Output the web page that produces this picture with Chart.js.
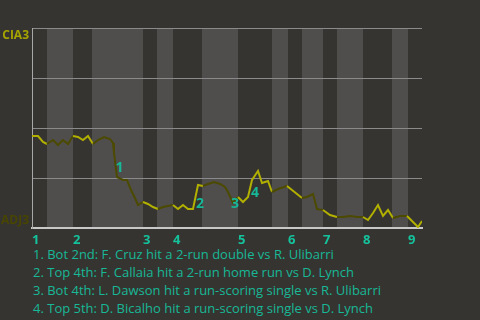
<!DOCTYPE html>
<html>
<head>
<meta charset="utf-8">
<script src="https://cdn.jsdelivr.net/npm/chart.js@4.4.1/dist/chart.umd.min.js"></script>
<style>
  html, body { margin: 0; padding: 0; background: #363430; }
  #wrap { position: relative; width: 480px; height: 250px; }
  #notes {
    margin: 0; padding: 0 0 0 33px;
    font-family: "Open Sans", "Noto Sans", sans-serif; font-size: 13px;
    line-height: 18px; color: #16b897; margin-top: -5px;
  }
</style>
</head>
<body>
<div id="wrap"><canvas id="wp" width="480" height="250"></canvas></div>
<div id="notes"></div>
<script>
// play index (x) and win probability for CIA3 (y, 0-100)
const playX = [0, 1.2, 2.2, 3, 4.2, 5.2, 6.2, 7.2, 8.2, 9.2, 10.2, 11.2, 12.2, 13.2, 14.4, 15.6, 16.2, 16.4, 17, 18.2,
  19, 19.8, 20.6, 21.2, 22.2, 23.2, 24.2, 25.2, 26.2, 27.2, 28.2, 29.2, 30.2, 31.2, 32.2, 33.2, 34.2, 35.2, 36.4, 37.6,
  38.6, 39.2, 40.2, 41.2, 42.2, 43.2, 44, 45.2, 46, 46.6, 47.2, 48, 49.2, 51, 52, 54, 55, 56.2, 57, 58.2,
  59.6, 61, 62.2, 63.6, 65, 66.2, 67.2, 68.2, 69.2, 70.2, 71.2, 72.2, 73.6, 75, 76.2, 77.2, 78];
const winProb = [46, 46, 43, 42, 44, 41.5, 44, 42, 46, 45.5, 44, 46, 42, 44, 45.5, 44.5, 42.5, 37.5, 25.5, 24,
  24, 19, 15, 11.5, 13, 12, 10.5, 9.5, 10.5, 11, 11.5, 9.5, 11.5, 9.5, 9.5, 21.5, 21, 22, 23, 22,
  20.5, 18, 12.5, 15.5, 13, 15.5, 24, 28.5, 22.5, 23, 23.5, 18, 19.5, 21, 19, 15, 15.5, 17, 9.5, 9,
  6.5, 5.5, 5.5, 6, 5.5, 5.5, 4, 7.5, 11.5, 6, 9, 5, 6, 6, 3, 0.5, 3.5];

// half-inning starts (top 1st, bot 1st, top 2nd ...) and end of game
const halfStarts = [0, 3, 8.2, 12, 22.2, 25, 28.2, 34, 41.2, 48, 51.2, 54, 58.2, 61, 66.2, 72, 75.2];
const gameEnd = 78;
const inningLabels = ['1', '2', '3', '4', '5', '6', '7', '8', '9'];

const awayTeam = 'CIA3';
const homeTeam = 'ADJ3';

// key plays
const keyLabels = ['1', '2', '3', '4'];
const keyX = [17.5, 33.6, 40.6, 44.6];
const keyY = [30, 12, 12, 17.5];
const keyNotes = [
  '1. Bot 2nd: F. Cruz hit a 2-run double vs R. Ulibarri',
  '2. Top 4th: F. Callaia hit a 2-run home run vs D. Lynch',
  '3. Bot 4th: L. Dawson hit a run-scoring single vs R. Ulibarri',
  '4. Top 5th: D. Bicalho hit a run-scoring single vs D. Lynch'
];

const YELLOW = '#b2b000';
const OLIVE = '#4c4a00';
const TEAL = '#16b897';

document.getElementById('notes').innerHTML = keyNotes.map(t => '<div>' + t + '</div>').join('');

function halfIndex(x) {
  let k = 0;
  for (let i = 0; i < halfStarts.length; i++) if (x >= halfStarts[i]) k = i;
  return k;
}

const bands = {
  id: 'bands',
  beforeDraw(chart) {
    const {ctx, chartArea, scales: {x}} = chart;
    ctx.save();
    ctx.fillStyle = '#4f4e4c';
    for (let i = 1; i < halfStarts.length; i += 2) {
      const x0 = x.getPixelForValue(halfStarts[i]);
      const x1 = x.getPixelForValue(i + 1 < halfStarts.length ? halfStarts[i + 1] : gameEnd);
      ctx.fillRect(x0, chartArea.top, x1 - x0, chartArea.bottom - chartArea.top);
    }
    ctx.restore();
  },
  afterDatasetsDraw(chart) {
    const {ctx, scales: {x, y}} = chart;
    ctx.save();
    ctx.fillStyle = TEAL;
    ctx.font = 'bold 14px "Open Sans", sans-serif';
    ctx.textAlign = 'center';
    ctx.textBaseline = 'middle';
    keyLabels.forEach((t, i) => ctx.fillText(t, x.getPixelForValue(keyX[i]), y.getPixelForValue(keyY[i])));
    ctx.restore();
  }
};

new Chart(document.getElementById('wp'), {
  type: 'line',
  data: {
    datasets: [{
      data: playX.map((v, i) => ({x: v, y: winProb[i]})),
      borderWidth: 2,
      borderColor: YELLOW,
      pointRadius: 0,
      tension: 0,
      segment: {
        borderColor: c => halfIndex((c.p0.parsed.x + c.p1.parsed.x) / 2) % 2 ? OLIVE : YELLOW
      }
    }]
  },
  plugins: [bands],
  options: {
    responsive: false,
    animation: false,
    devicePixelRatio: 1,
    layout: {padding: {top: 28, right: 58, bottom: 0, left: 0}},
    plugins: {legend: {display: false}, tooltip: {enabled: false}},
    scales: {
      x: {
        type: 'linear', min: 0, max: gameEnd,
        afterBuildTicks: s => { s.ticks = halfStarts.filter((v, i) => i % 2 === 0).map(v => ({value: v})); },
        afterFit: s => { s.height = 22; },
        grid: {color: 'transparent', drawTicks: false},
        border: {color: '#c8c8c8', width: 2},
        ticks: {
          autoSkip: false, maxRotation: 0, align: 'start', padding: 4,
          color: '#14c29c', font: {family: 'Open Sans', size: 13, weight: 'bold'},
          callback: (v, i) => inningLabels[i]
        }
      },
      y: {
        min: 0, max: 100,
        afterBuildTicks: s => { s.ticks = [0, 25, 50, 75, 100].map(v => ({value: v})); },
        afterFit: s => { s.width = 32; },
        grid: {color: '#8a8a8a', drawTicks: false},
        border: {color: '#a8a8a8'},
        ticks: {
          padding: 3,
          font: {family: 'Open Sans', size: 12, weight: 'bold'},
          color: c => c.tick.value === 100 ? '#a6a400' : '#474500',
          callback: v => v === 100 ? ['', awayTeam] : v === 0 ? [homeTeam, ''] : ''
        }
      }
    }
  }
});
</script>
</body>
</html>
